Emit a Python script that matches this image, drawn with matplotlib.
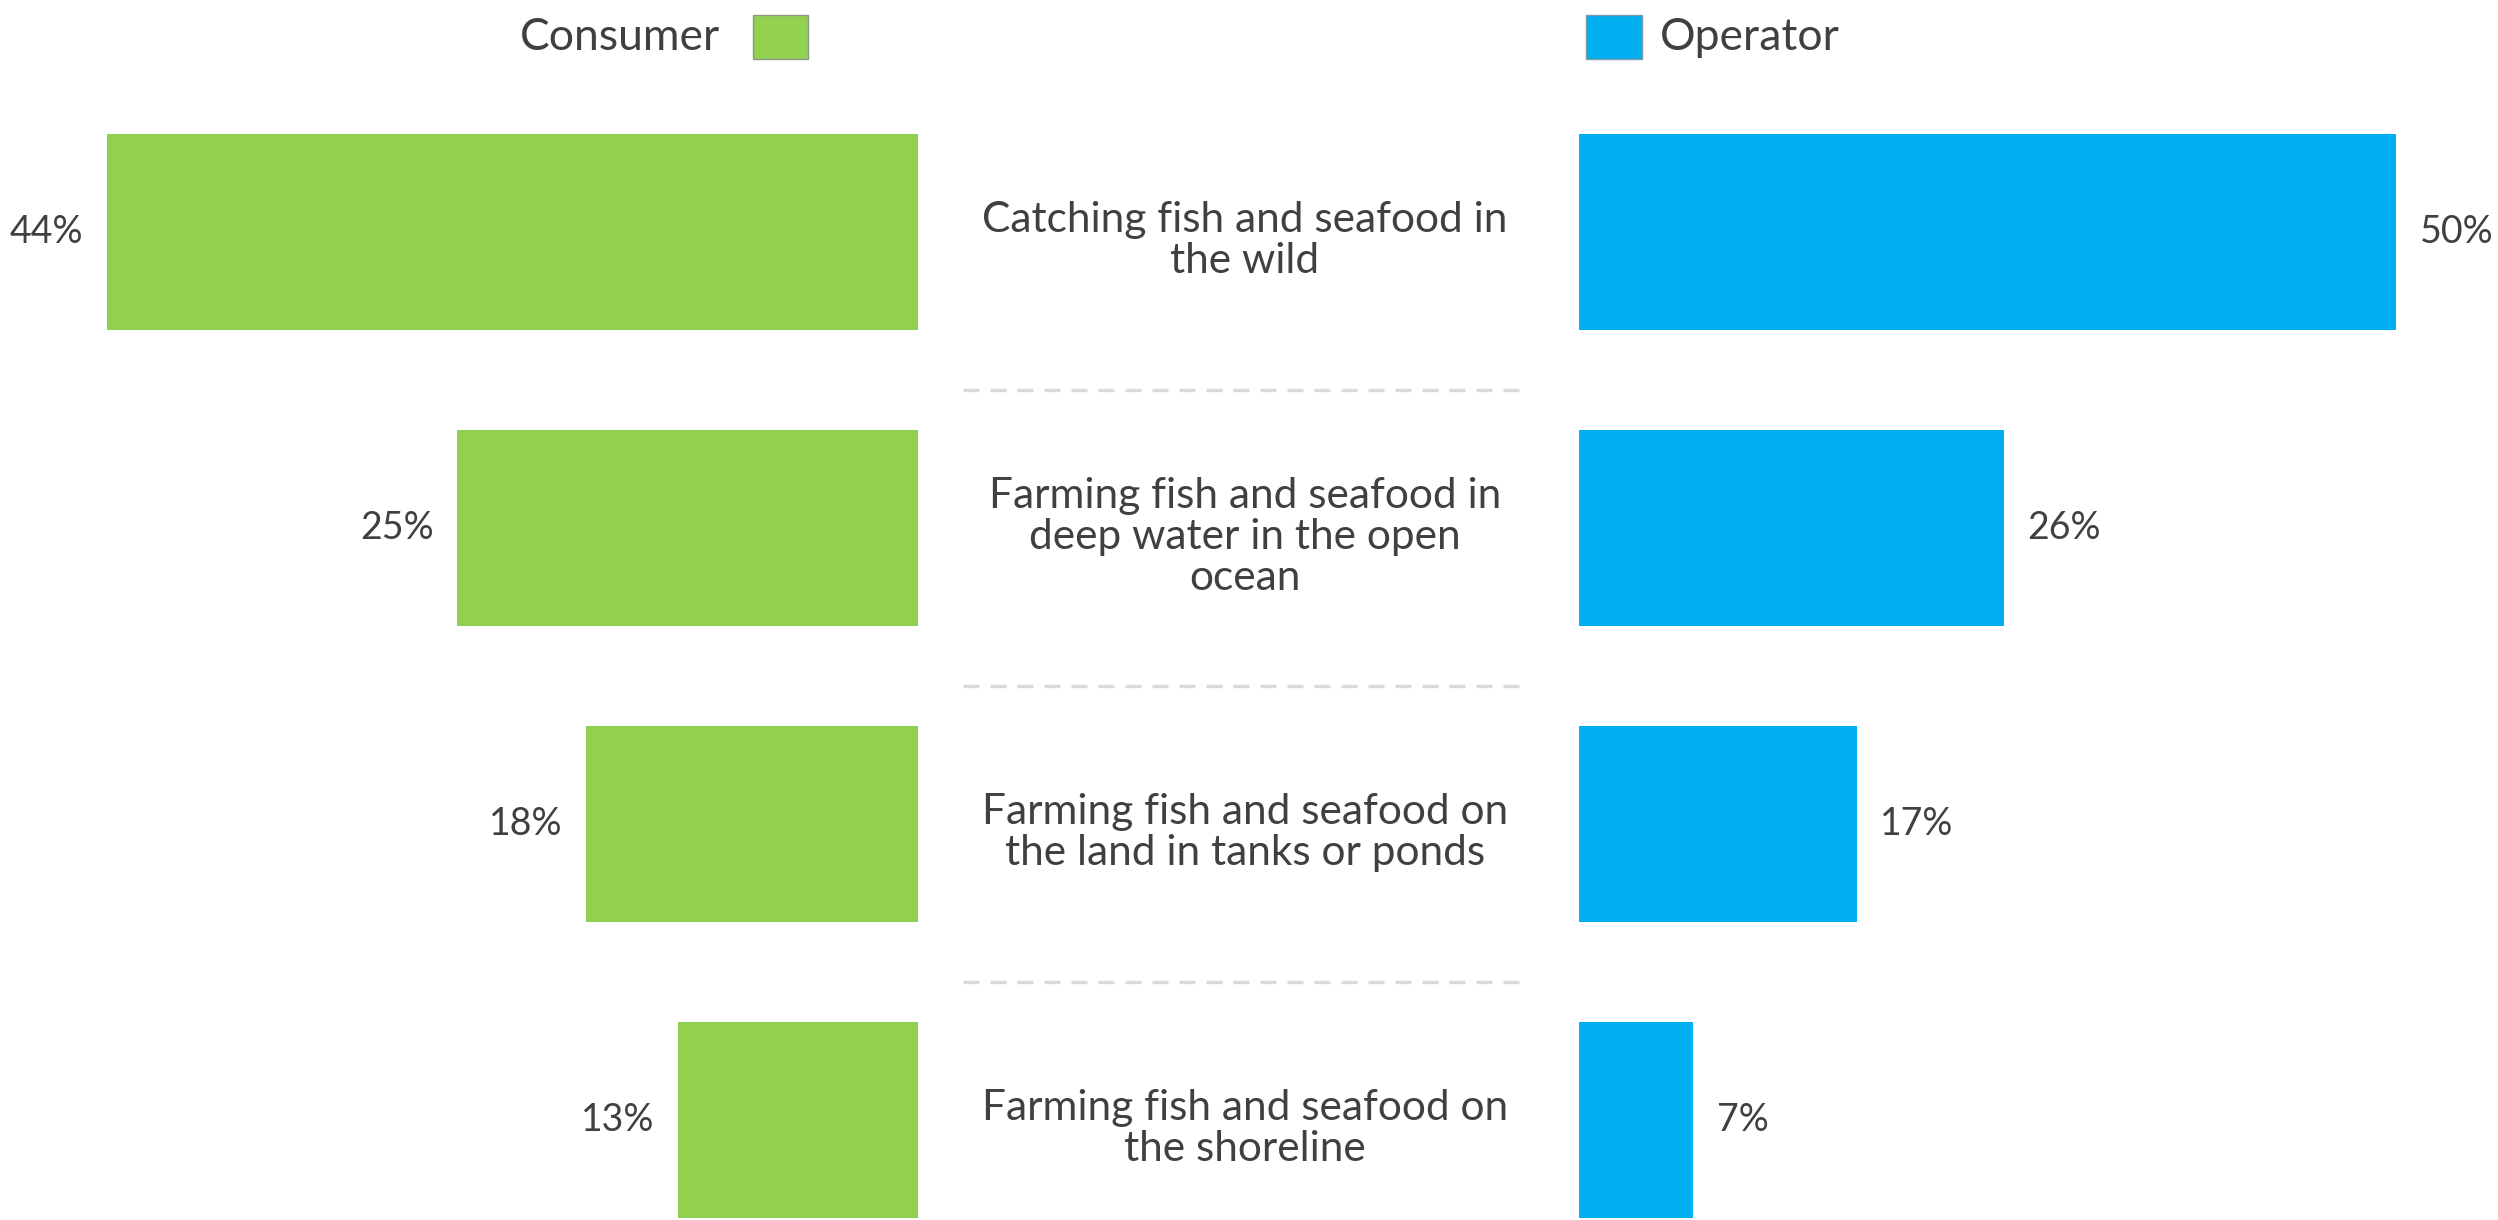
import matplotlib
matplotlib.use("Agg")
import matplotlib.pyplot as plt
from matplotlib.patches import Rectangle

# Survey data
categories = [
    "Catching fish and seafood in\nthe wild",
    "Farming fish and seafood in\ndeep water in the open\nocean",
    "Farming fish and seafood on\nthe land in tanks or ponds",
    "Farming fish and seafood on\nthe shoreline",
]
consumer = [44, 25, 18, 13]
operator = [50, 26, 17, 7]
series_names = ["Consumer", "Operator"]

GREEN = "#92D050"
BLUE = "#00B0F0"
TEXT = "#404040"
FONT = ["Lato", "DejaVu Sans"]

W, H = 2498, 1220
fig = plt.figure(figsize=(W / 100, H / 100), dpi=100)
fig.patch.set_facecolor("white")

def fx(px):
    return px / W

def fy(py):
    return 1 - py / H

# y in data units: row i centred at i; rows are 296 px apart
row_px = 296.0
y0_px = 232.0
ylim = ((H - y0_px) / row_px, -y0_px / row_px)
bar_h = 0.665

ax_l = fig.add_axes([fx(107), 0, fx(918 - 107), 1])
ax_r = fig.add_axes([fx(1579), 0, fx(2396 - 1579), 1])
ax_c = fig.add_axes([fx(918), 0, fx(1579 - 918), 1])

ypos = list(range(len(categories)))

ax_l.barh(ypos, consumer, height=bar_h, color=GREEN)
ax_l.set_xlim(max(consumer), 0)
ax_r.barh(ypos, operator, height=bar_h, color=BLUE)
ax_r.set_xlim(0, max(operator))

for ax in (ax_l, ax_r, ax_c):
    ax.set_ylim(*ylim)
    ax.axis("off")

for y, v in zip(ypos, consumer):
    ax_l.annotate(f"{v}%", (v, y), xytext=(-17, 0), textcoords="offset points",
                  ha="right", va="center", fontsize=27, color=TEXT,
                  family=FONT)
for y, v in zip(ypos, operator):
    ax_r.annotate(f"{v}%", (v, y), xytext=(17, 0), textcoords="offset points",
                  ha="left", va="center", fontsize=27, color=TEXT,
                  family=FONT)

# category labels in the centre column, dashed separators between rows
ax_c.set_xlim(918, 1579)
for y, label in zip(ypos, categories):
    ax_c.text(1245, y + 0.03, label, ha="center", va="center", fontsize=30.5,
              color=TEXT, family=FONT, linespacing=1.1)
for y in ypos[:-1]:
    ax_c.plot([963, 1528], [y + 0.535, y + 0.535], color="#D9D9D9", lw=2.4,
              dashes=(4.8, 3.3), solid_capstyle="butt", dash_capstyle="butt")

# legend
fig.text(fx(720), fy(37), series_names[0], ha="right", va="center",
         fontsize=32, color=TEXT, family=FONT)
fig.patches.append(Rectangle((fx(753), fy(59)), fx(55), 44 / H,
                             transform=fig.transFigure, facecolor=GREEN,
                             edgecolor="#8a9a80", lw=1))
fig.patches.append(Rectangle((fx(1586), fy(59)), fx(56), 44 / H,
                             transform=fig.transFigure, facecolor=BLUE,
                             edgecolor="#7a9aa8", lw=1))
fig.text(fx(1660), fy(37), series_names[1], ha="left", va="center",
         fontsize=32, color=TEXT, family=FONT)

fig.savefig("out.png", dpi=100, facecolor="white")
